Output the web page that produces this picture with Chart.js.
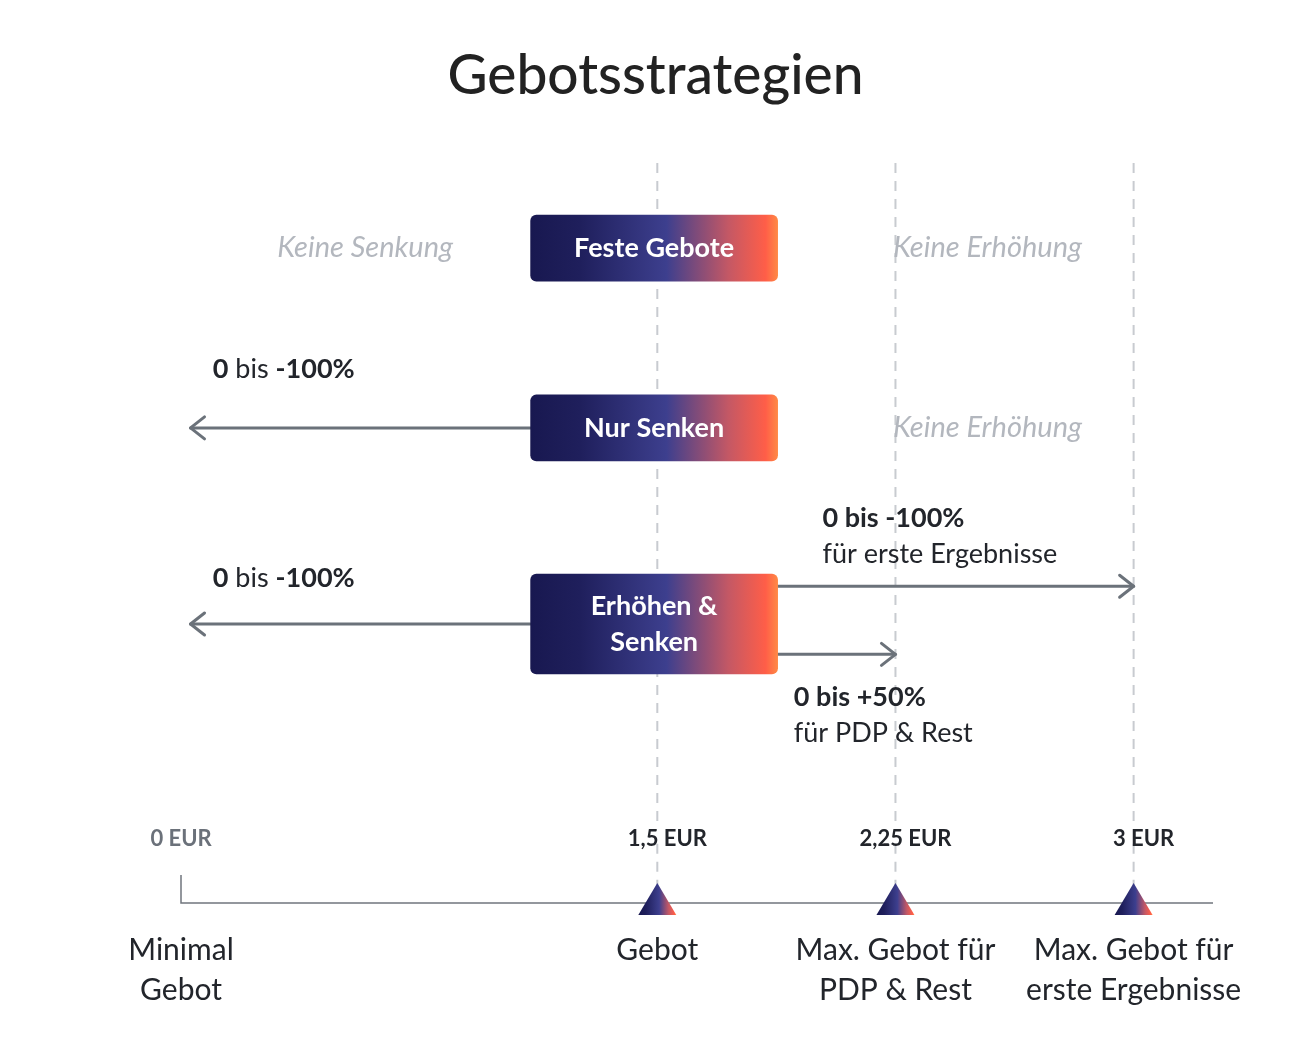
<!DOCTYPE html>
<html><head><meta charset="utf-8">
<script src="https://cdn.jsdelivr.net/npm/chart.js@4"></script>
<style>body{margin:0;background:#fff}</style></head>
<body><canvas id="c" width="1311" height="1045"></canvas>
<script>
const title = "Gebotsstrategien";
const rows = [["Feste Gebote"], ["Nur Senken"], ["Erhöhen &", "Senken"]];
const rowY = [8.85, 6.42, 3.77];
const rowH = [0.9, 0.9, 1.36];
const barFrom = 1.1, barTo = 1.88;
const tickValues = [0, 1.5, 2.25, 3];
const tickLabels = ["0 EUR", "1,5 EUR", "2,25 EUR", "3 EUR"];
const axisLabels = [["Minimal", "Gebot"], ["Gebot"], ["Max. Gebot für", "PDP & Rest"], ["Max. Gebot für", "erste Ergebnisse"]];
// arrows: [fromX, toX, y]
const arrows = [[1.1, 0.03, 6.42], [1.1, 0.03, 3.77], [1.88, 3.0, 4.28], [1.88, 2.25, 3.36]];
// notes: [x, y, boldPart1, regular, boldPart2, secondLine]
const notes = [
  [0.1, 7.21, "0", " bis ", "-100%", ""],
  [0.1, 4.39, "0", " bis ", "-100%", ""],
  [2.02, 5.2, "0 bis -100%", "", "", "für erste Ergebnisse"],
  [1.93, 2.78, "0 bis +50%", "", "", "für PDP & Rest"]
];
const grayNotes = [[0.58, 8.85, "Keine Senkung"], [2.54, 8.85, "Keine Erhöhung"], [2.54, 6.42, "Keine Erhöhung"]];
const F = 'Lato, "Source Sans Pro", sans-serif';

function grad(ctx, x0, x1) {
  const g = ctx.createLinearGradient(x0, 0, x1, 0);
  g.addColorStop(0, '#181850'); g.addColorStop(0.2, '#1f1f5c');
  g.addColorStop(0.55, '#3d3f8e'); g.addColorStop(0.8, '#c45865');
  g.addColorStop(0.95, '#ff5e48'); g.addColorStop(1, '#ff8a45');
  return g;
}
const plugin = {
  id: 'diagram',
  afterDraw(chart) {
    const ctx = chart.ctx, xs = chart.scales.x, ys = chart.scales.y;
    const X = v => xs.getPixelForValue(v), Y = v => ys.getPixelForValue(v);
    const top = chart.chartArea.top, bot = chart.chartArea.bottom;
    ctx.save();
    ctx.fillStyle = '#222'; ctx.font = '500 55px ' + F; ctx.textAlign = 'center'; ctx.textBaseline = 'middle';
    ctx.fillText(title, chart.width / 2, 76);
    ctx.strokeStyle = '#c8cbd0'; ctx.lineWidth = 2; ctx.setLineDash([10, 8]);
    tickValues.slice(1).forEach(v => { ctx.beginPath(); ctx.moveTo(X(v), top); ctx.lineTo(X(v), Y(1.0)); ctx.stroke();
      ctx.beginPath(); ctx.moveTo(X(v), Y(0.8)); ctx.lineTo(X(v), bot); ctx.stroke(); });
    ctx.setLineDash([]);
    ctx.strokeStyle = '#70757d'; ctx.lineWidth = 1.5;
    ctx.beginPath(); ctx.moveTo(X(0), Y(0.38)); ctx.lineTo(X(0), bot); ctx.lineTo(chart.chartArea.right, bot); ctx.stroke();
    ctx.strokeStyle = '#6b727a'; ctx.lineWidth = 3; ctx.lineCap = 'round'; ctx.lineJoin = 'round';
    arrows.forEach(([a, b, y]) => {
      const x0 = X(a), x1 = X(b), yy = Y(y), d = x1 > x0 ? -1 : 1;
      ctx.beginPath(); ctx.moveTo(x0, yy); ctx.lineTo(x1, yy); ctx.stroke();
      ctx.beginPath(); ctx.moveTo(x1 + d * 14, yy - 11); ctx.lineTo(x1, yy); ctx.lineTo(x1 + d * 14, yy + 11); ctx.stroke();
    });
    rows.forEach((lab, i) => {
      const x0 = X(barFrom), x1 = X(barTo), y0 = Y(rowY[i] + rowH[i] / 2), y1 = Y(rowY[i] - rowH[i] / 2);
      ctx.fillStyle = grad(ctx, x0, x1);
      ctx.beginPath(); ctx.roundRect(x0, y0, x1 - x0, y1 - y0, 6); ctx.fill();
      ctx.fillStyle = '#fff'; ctx.font = '700 27px ' + F; ctx.textAlign = 'center';
      const cy = Y(rowY[i]);
      lab.forEach((t, j) => ctx.fillText(t, (x0 + x1) / 2, cy + (j - (lab.length - 1) / 2) * 36));
    });
    ctx.fillStyle = '#b3b7be'; ctx.font = 'italic 29px ' + F;
    grayNotes.forEach(([x, y, t]) => ctx.fillText(t, X(x), Y(y)));
    ctx.textAlign = 'left';
    notes.forEach(([x, y, b1, r, b2, l2]) => {
      let px = X(x); const py = Y(y);
      ctx.fillStyle = '#22252b';
      [[b1, 700], [r, 400], [b2, 700]].forEach(([t, w]) => { if (!t) return; ctx.font = w + ' 27px ' + F; ctx.fillText(t, px, py); px += ctx.measureText(t).width; });
      if (l2) { ctx.font = '400 27px ' + F; ctx.fillText(l2, X(x), py + 36); }
    });
    ctx.textAlign = 'center';
    tickValues.forEach((v, i) => {
      const x = X(v);
      ctx.fillStyle = i === 0 ? '#6b717a' : '#22252b'; ctx.font = '700 22px ' + F;
      ctx.fillText(tickLabels[i], x + (i === 0 ? 0 : 10), Y(0.87));
      if (i > 0) {
        ctx.fillStyle = grad(ctx, x - 19, x + 19);
        ctx.beginPath(); ctx.moveTo(x, bot - 20); ctx.lineTo(x + 19, bot + 12); ctx.lineTo(x - 19, bot + 12); ctx.closePath(); ctx.fill();
      }
      ctx.fillStyle = '#22252b'; ctx.font = '400 30px ' + F;
      axisLabels[i].forEach((t, j) => ctx.fillText(t, x, bot + 47 + j * 40));
    });
    ctx.restore();
  }
};
new Chart(document.getElementById('c'), {
  type: 'scatter',
  data: { datasets: [{ data: tickValues.map(v => ({ x: v, y: 0 })), pointRadius: 0 }] },
  options: {
    responsive: false, animation: false,
    layout: { padding: { left: 181, right: 98, top: 163, bottom: 142 } },
    plugins: { legend: { display: false }, tooltip: { enabled: false } },
    scales: { x: { type: 'linear', min: 0, max: 3.25, display: false }, y: { type: 'linear', min: 0, max: 10, display: false } }
  },
  plugins: [plugin]
});
</script></body></html>
